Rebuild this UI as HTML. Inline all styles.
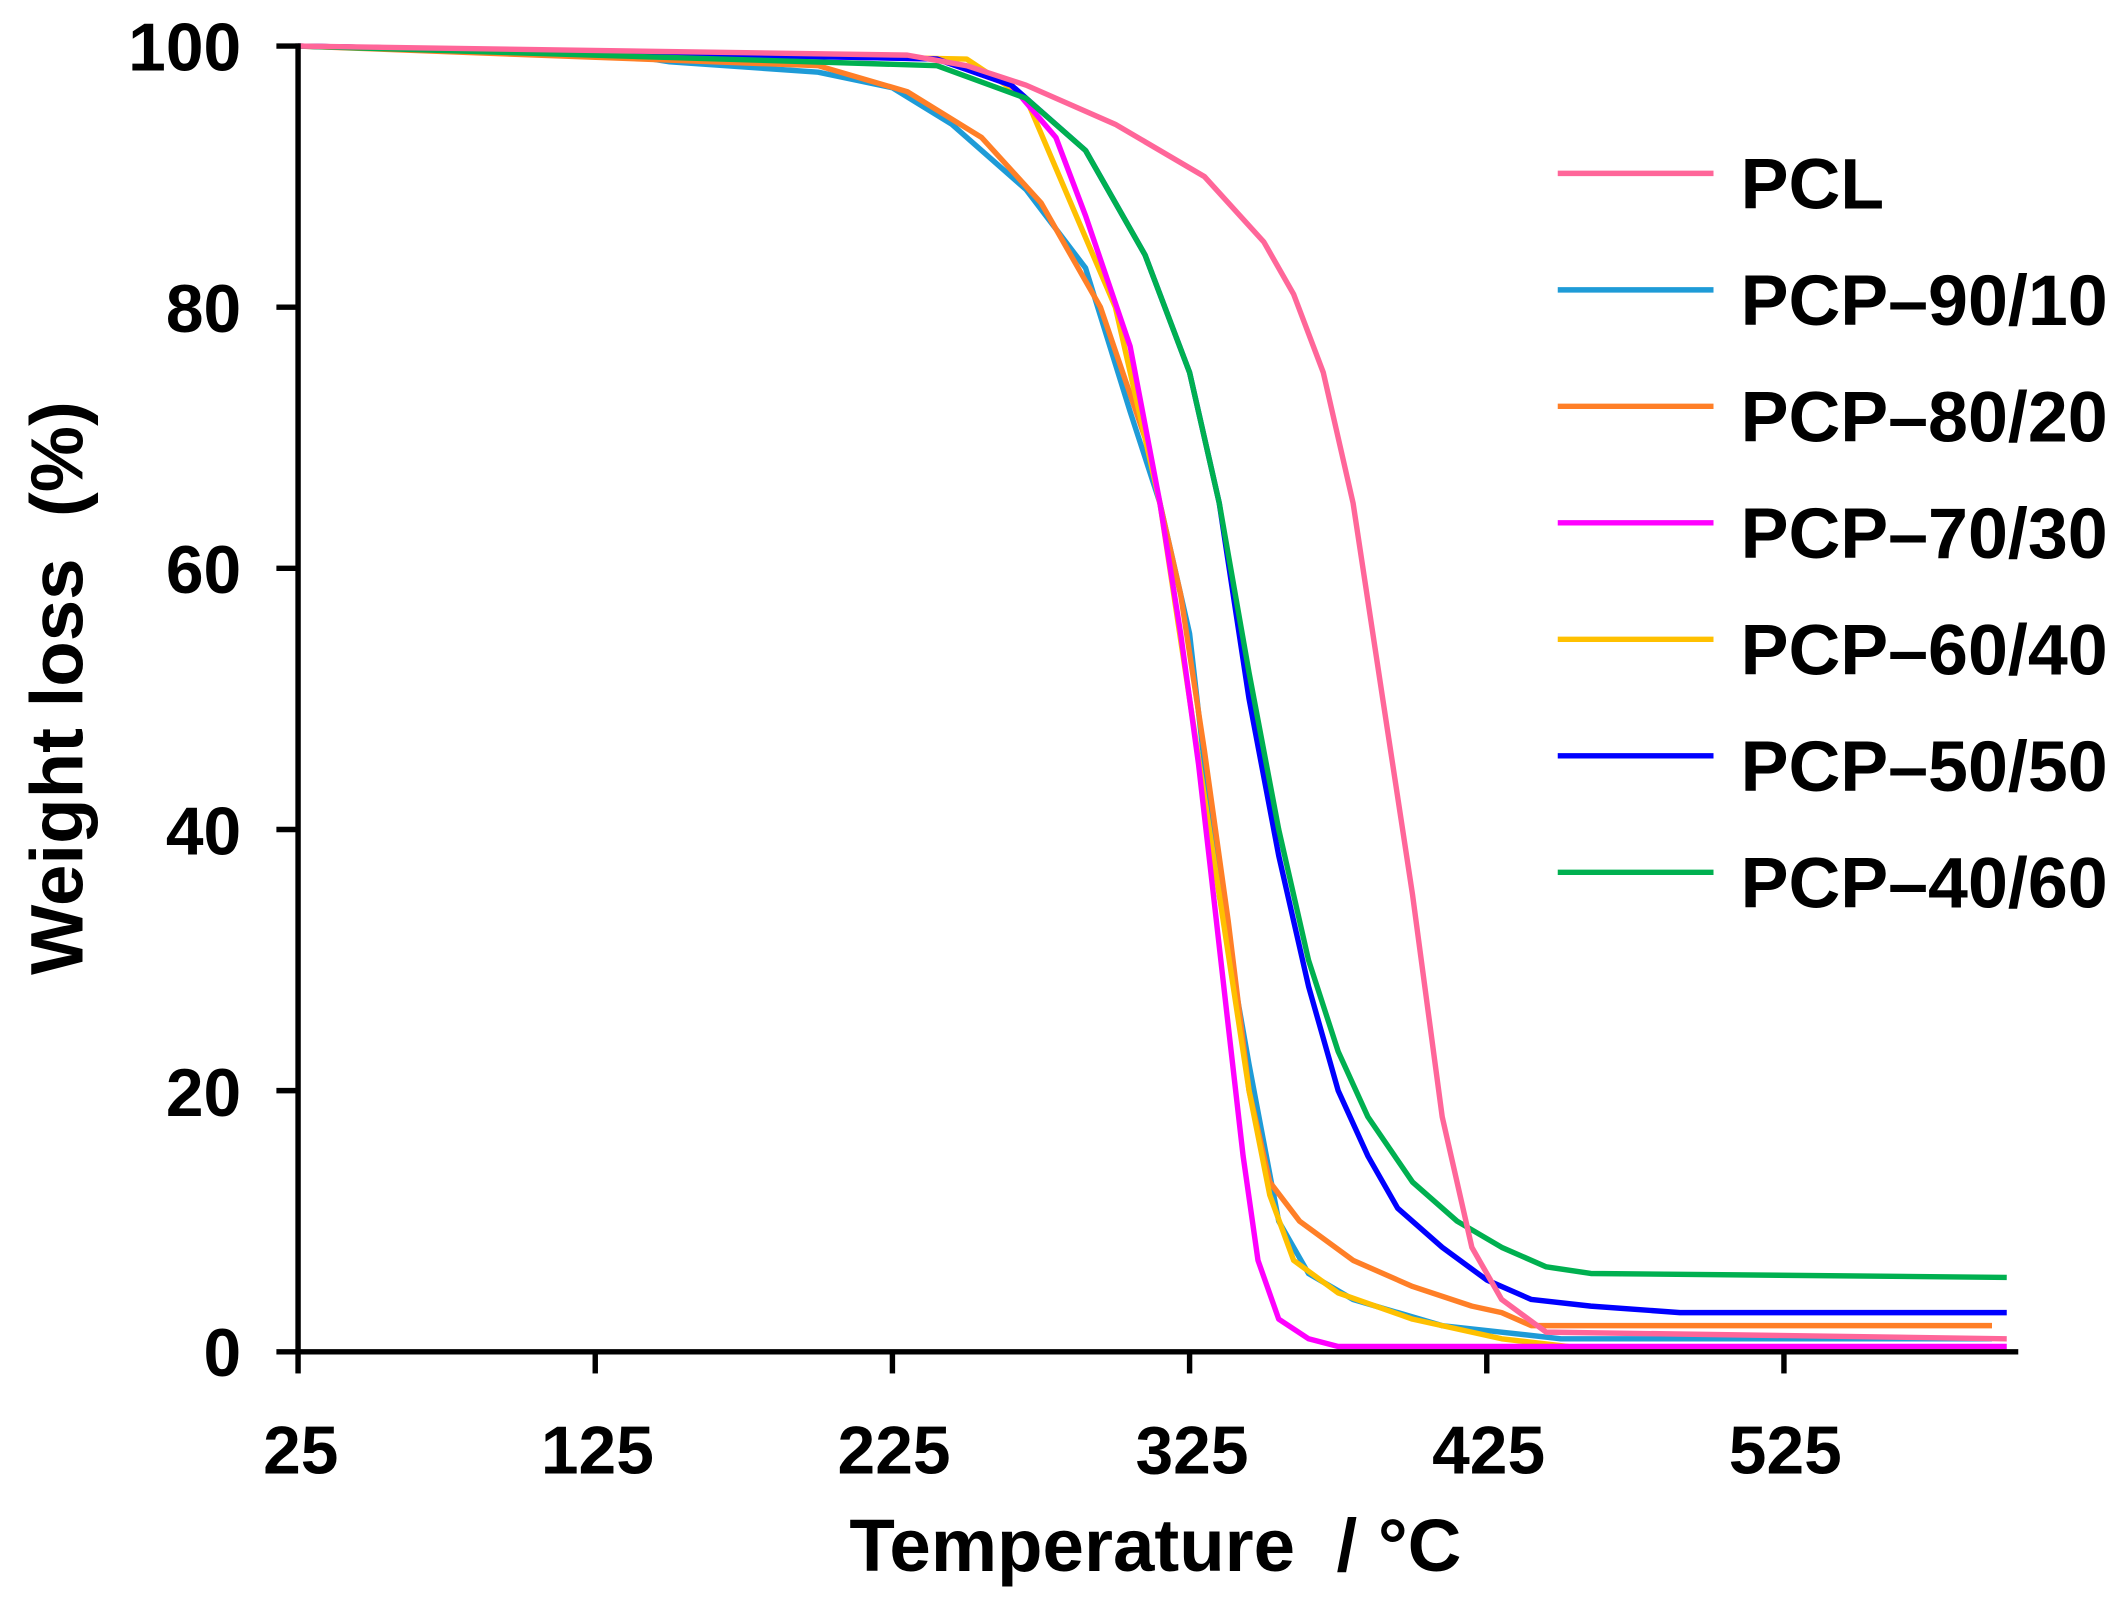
<!DOCTYPE html>
<html><head><meta charset="utf-8"><style>
html,body{margin:0;padding:0;background:#fff;}
svg{display:block;}
text{font-family:"Liberation Sans",Arial,sans-serif;font-weight:bold;fill:#000;white-space:pre;}
</style></head><body>
<svg id="s" width="2124" height="1601" viewBox="0 0 1568 1182" xmlns="http://www.w3.org/2000/svg">
<g id="curves" fill="none" stroke-width="4" stroke-linejoin="round"></g>
<g stroke="#000" stroke-width="4" fill="none">
<line x1="220" y1="32" x2="220" y2="1000"/>
<line x1="218" y1="998" x2="1490" y2="998"/>
<line x1="204" y1="34" x2="220" y2="34"/>
<line x1="204" y1="226.8" x2="220" y2="226.8"/>
<line x1="204" y1="419.6" x2="220" y2="419.6"/>
<line x1="204" y1="612.4" x2="220" y2="612.4"/>
<line x1="204" y1="805.2" x2="220" y2="805.2"/>
<line x1="204" y1="998" x2="220" y2="998"/>
<line x1="220" y1="998" x2="220" y2="1014"/>
<line x1="439.4" y1="998" x2="439.4" y2="1014"/>
<line x1="658.8" y1="998" x2="658.8" y2="1014"/>
<line x1="878.2" y1="998" x2="878.2" y2="1014"/>
<line x1="1097.6" y1="998" x2="1097.6" y2="1014"/>
<line x1="1317" y1="998" x2="1317" y2="1014"/>
</g>
<g font-size="50" text-anchor="end">
<text x="178" y="52">100</text>
<text x="178" y="245">80</text>
<text x="178" y="438">60</text>
<text x="178" y="631">40</text>
<text x="178" y="824">20</text>
<text x="178" y="1016">0</text>
</g>
<g font-size="50" text-anchor="middle">
<text x="222" y="1088">25</text>
<text x="441" y="1088">125</text>
<text x="660" y="1088">225</text>
<text x="880" y="1088">325</text>
<text x="1099" y="1088">425</text>
<text x="1318" y="1088">525</text>
</g>
<text x="853" y="1160" font-size="55" text-anchor="middle">Temperature  / °C</text>
<text transform="translate(61,508) rotate(-90)" font-size="55" text-anchor="middle">Weight loss  (%)</text>
<g id="legend" font-size="53"></g>
</svg>
<script>
var S=[
["PCL","#FF6699",[[25,100],[230,99.3],[250,98.5],[270,97],[300,94],[330,90],[350,85],[360,81],[370,75],[380,65],[390,50],[400,35],[410,18],[420,8],[430,4],[445,1.5],[600,1]]],
["PCP\u201390/10","#1E9BD7",[[25,100],[130,99.5],[150,98.8],[200,98],[225,96.8],[245,94],[270,89],[290,83],[305,72],[315,65],[325,55],[335,35],[345,22],[355,10],[365,6],[380,4],[410,2],[430,1.5],[450,1],[595,1]]],
["PCP\u201380/20","#FF7F27",[[25,100],[200,98.5],[230,96.5],[255,93],[275,88],[295,80],[310,70],[322,58],[330,46],[338,33],[345,20],[352,13],[362,10],[380,7],[400,5],[420,3.5],[430,3],[440,2],[595,2]]],
["PCP\u201370/30","#FF00FF",[[25,100],[240,99],[265,97],[280,93],[290,87],[305,77],[315,65],[322,55],[328,45],[333,35],[338,25],[343,15],[348,7],[355,2.5],[365,1],[375,0.4],[600,0.4]]],
["PCP\u201360/40","#FFC000",[[25,100],[250,99],[270,96],[285,88],[300,80],[315,65],[325,50],[335,35],[345,20],[352,12],[360,7],[375,4.5],[400,2.5],[430,1],[460,0.2],[600,0]]],
["PCP\u201350/50","#0000FF",[[25,100],[240,99],[265,97],[290,92],[310,84],[325,75],[335,65],[345,50],[355,38],[365,28],[375,20],[385,15],[395,11],[410,8],[425,5.5],[440,4],[460,3.5],[490,3],[600,3]]],
["PCP\u201340/60","#00B050",[[25,100],[240,98.5],[270,96],[290,92],[310,84],[325,75],[335,65],[345,52],[355,40],[365,30],[375,23],[385,18],[400,13],[415,10],[430,8],[445,6.5],[460,6],[600,5.7]]]
];
var NS="http://www.w3.org/2000/svg",g=document.getElementById("curves"),L=document.getElementById("legend");
function X(t){return 220+(t-25)*2.194;}function Y(w){return 998-w*9.64;}
var order=[1,2,4,3,5,6,0];
order.forEach(function(i){var s=S[i],d="";s[2].forEach(function(p,k){d+=(k?"L":"M")+X(p[0]).toFixed(1)+","+Y(p[1]).toFixed(1);});
var p=document.createElementNS(NS,"path");p.setAttribute("d",d);p.setAttribute("stroke",s[1]);g.appendChild(p);});
S.forEach(function(s,i){var y=128+i*86;var l=document.createElementNS(NS,"line");l.setAttribute("x1",1150);l.setAttribute("x2",1265);l.setAttribute("y1",y);l.setAttribute("y2",y);l.setAttribute("stroke",s[1]);l.setAttribute("stroke-width",4);L.appendChild(l);
var t=document.createElementNS(NS,"text");t.setAttribute("x",1285);t.setAttribute("y",y+26);t.textContent=s[0];L.appendChild(t);});
</script>
</body></html>
